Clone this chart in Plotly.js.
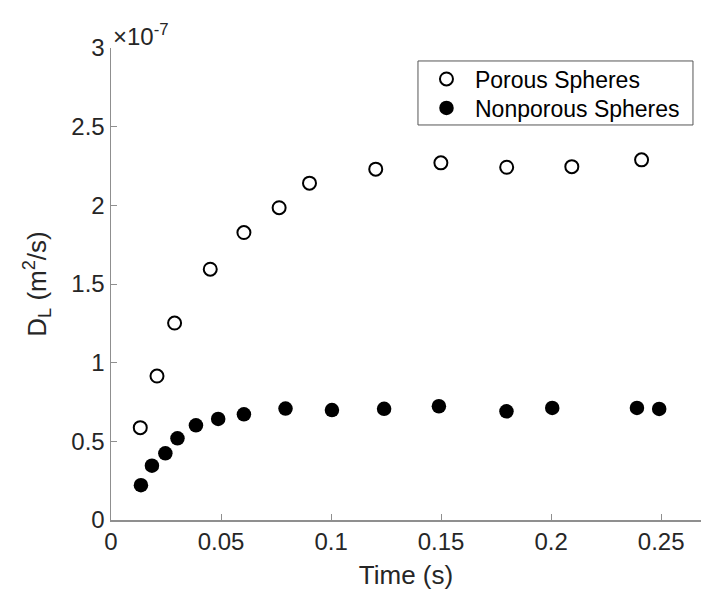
<!DOCTYPE html>
<html>
<head>
<meta charset="utf-8">
<script src="https://cdn.plot.ly/plotly-3.0.1.min.js"></script>
<style>
html, body { margin: 0; padding: 0; background: #ffffff; }
#chart { width: 701px; height: 595px; }
</style>
</head>
<body>
<div id="chart"></div>
<script>
// Values of D_L are in units of 1e-7 m^2/s (axis multiplier shown as x10^-7)
const porousTime = [0.0133, 0.0209, 0.0289, 0.0451, 0.0604, 0.0764, 0.0902, 0.1203, 0.1499, 0.1798, 0.2094, 0.2411];
const porousDL   = [0.587, 0.915, 1.252, 1.594, 1.827, 1.985, 2.141, 2.230, 2.270, 2.242, 2.246, 2.289];

const nonporousTime = [0.0136, 0.0186, 0.0247, 0.0302, 0.0386, 0.0487, 0.0604, 0.0793, 0.1004, 0.1241, 0.1490, 0.1797, 0.2005, 0.2390, 0.2491];
const nonporousDL   = [0.221, 0.345, 0.424, 0.519, 0.602, 0.642, 0.672, 0.708, 0.699, 0.707, 0.723, 0.691, 0.712, 0.712, 0.706];

const xTickVals = [0, 0.05, 0.1, 0.15, 0.2, 0.25];
const xTickText = ['0', '0.05', '0.1', '0.15', '0.2', '0.25'];
const yTickVals = [0, 0.5, 1, 1.5, 2, 2.5, 3];
const yTickText = ['0', '0.5', '1', '1.5', '2', '2.5', '3'];

const FONT = 'Liberation Sans, Arial, Helvetica, sans-serif';
const TXT = '#262626';
const AX = '#8f8f8f';

const traces = [
  {
    x: porousTime, y: porousDL, type: 'scatter', mode: 'markers', name: 'Porous Spheres',
    legend: 'legend',
    marker: { symbol: 'circle-open', size: 13, color: '#000000', line: { width: 2, color: '#000000' } }
  },
  {
    x: nonporousTime, y: nonporousDL, type: 'scatter', mode: 'markers', name: 'Nonporous Spheres',
    legend: 'legend2',
    marker: { symbol: 'circle', size: 14.5, color: '#000000', line: { width: 0 } }
  }
];

const legendCommon = {
  xanchor: 'left', yanchor: 'middle',
  bgcolor: 'rgba(0,0,0,0)', borderwidth: 0,
  font: { family: FONT, size: 23, color: '#000000' },
  itemwidth: 47
};

const layout = {
  width: 701, height: 595,
  margin: { l: 111, r: 0, t: 48, b: 75 },
  paper_bgcolor: '#ffffff', plot_bgcolor: '#ffffff',
  font: { family: FONT, color: TXT, size: 24 },
  showlegend: true,
  xaxis: {
    range: [0, 0.2681], tickvals: xTickVals, ticktext: xTickText,
    showgrid: false, zeroline: false, showline: true, linecolor: AX, linewidth: 1.5,
    ticks: 'inside', ticklen: 6, tickcolor: AX, tickwidth: 1,
    tickfont: { family: FONT, size: 24, color: TXT },
    title: { text: 'Time (s)', font: { family: FONT, size: 26, color: TXT }, standoff: 11 },
    mirror: false
  },
  yaxis: {
    range: [0, 3], tickvals: yTickVals, ticktext: yTickText,
    showgrid: false, zeroline: false, showline: true, linecolor: AX, linewidth: 1.5,
    ticks: 'inside', ticklen: 6, tickcolor: AX, tickwidth: 1,
    tickfont: { family: FONT, size: 24, color: TXT },
    title: { text: 'D<sub>L</sub> (m<sup>2</sup>/s)', font: { family: FONT, size: 26, color: TXT }, standoff: 17 },
    mirror: false
  },
  legend: Object.assign({ x: 0.5203, y: 0.9343 }, legendCommon),
  legend2: Object.assign({ x: 0.5203, y: 0.8729 }, legendCommon),
  shapes: [
    {
      type: 'rect', xref: 'paper', yref: 'paper',
      x0: 0.5203, x1: 0.9864, y0: 0.8369, y1: 0.9725,
      line: { color: '#555555', width: 1 }, fillcolor: '#ffffff', layer: 'below'
    }
  ],
  annotations: [
    {
      xref: 'paper', yref: 'paper', x: 0, y: 1, xanchor: 'left', yanchor: 'bottom',
      text: '×10<sup>-7</sup>', showarrow: false,
      font: { family: FONT, size: 24, color: TXT }, yshift: -4
    }
  ]
};

Plotly.newPlot('chart', traces, layout, { displayModeBar: false, staticPlot: true });
</script>
</body>
</html>
